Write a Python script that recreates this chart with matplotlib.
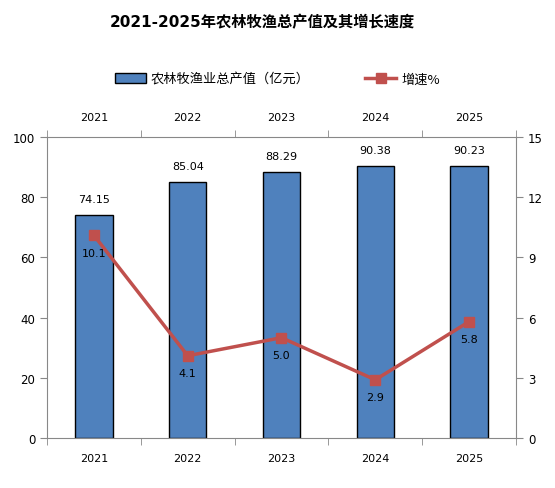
import matplotlib
matplotlib.use("Agg")
import matplotlib.pyplot as plt
import numpy as np
from matplotlib.lines import Line2D
from matplotlib.patches import Patch

plt.rcParams["font.family"] = ["DejaVu Sans", "Noto Sans CJK SC"]

years = ["2021", "2022", "2023", "2024", "2025"]
output_values = [74.15, 85.04, 88.29, 90.38, 90.23]
growth_rates = [10.1, 4.1, 5.0, 2.9, 5.8]

BAR_COLOR = "#4F81BD"
LINE_COLOR = "#C0504D"
AXIS_COLOR = "#888888"

fig = plt.figure(figsize=(5.55, 4.89), dpi=100)
ax = fig.add_axes([0.0847, 0.1022, 0.845, 0.6156])
x = np.arange(len(years))

ax.bar(x, output_values, width=0.40, color=BAR_COLOR, edgecolor="black", linewidth=1.0, zorder=2)
for xi, v in zip(x, output_values):
    ax.annotate(f"{v:.2f}", (xi, v), xytext=(0, 8), textcoords="offset points",
                ha="center", va="bottom", fontsize=8)

ax.set_xlim(-0.5, len(years) - 0.5)
ax.set_ylim(0, 100)
ax.set_yticks(np.arange(0, 101, 20))
ax.set_xticks(x)
ax.set_xticklabels(years)
ax.set_xticks(np.arange(-0.5, len(years)), minor=True)
ax.tick_params(axis="x", which="major", length=0, pad=11, labelsize=8, top=True, labeltop=True)
ax.tick_params(axis="x", which="minor", length=5, color=AXIS_COLOR, top=True, direction="out")
ax.tick_params(axis="y", length=5, color=AXIS_COLOR, labelsize=8.5)
for side in ["left", "bottom", "top"]:
    ax.spines[side].set_color(AXIS_COLOR)
ax.spines["right"].set_visible(False)

ax2 = ax.twinx()
ax2.plot(x, growth_rates, color=LINE_COLOR, linewidth=2.5, marker="s", markersize=7, zorder=3)
for xi, v in zip(x, growth_rates):
    ax2.annotate(f"{v:.1f}", (xi, v), xytext=(0, -9), textcoords="offset points",
                 ha="center", va="top", fontsize=8)
ax2.set_ylim(0, 15)
ax2.set_yticks(np.arange(0, 16, 3))
ax2.tick_params(axis="y", length=5, color=AXIS_COLOR, labelsize=8.5)
for side in ["left", "bottom", "top"]:
    ax2.spines[side].set_visible(False)
ax2.spines["right"].set_color(AXIS_COLOR)

fig.text(0.472, 0.953, "2021-2025年农林牧渔总产值及其增长速度", ha="center", va="center",
         fontsize=11, fontweight="bold")

handles = [
    Patch(facecolor=BAR_COLOR, edgecolor="black", linewidth=1.0),
    Line2D([], [], color=LINE_COLOR, linewidth=2.5, marker="s", markersize=7),
]
fig.legend(handles, ["农林牧渔业总产值（亿元）", "增速%"], loc="center",
           bbox_to_anchor=(0.5, 0.836), ncol=2, frameon=False,
           prop={"family": ["Noto Sans CJK SC", "DejaVu Sans"], "size": 9.5},
           columnspacing=4.2, handlelength=2.3, handletextpad=0.4)

fig.savefig("out.png", dpi=100)
